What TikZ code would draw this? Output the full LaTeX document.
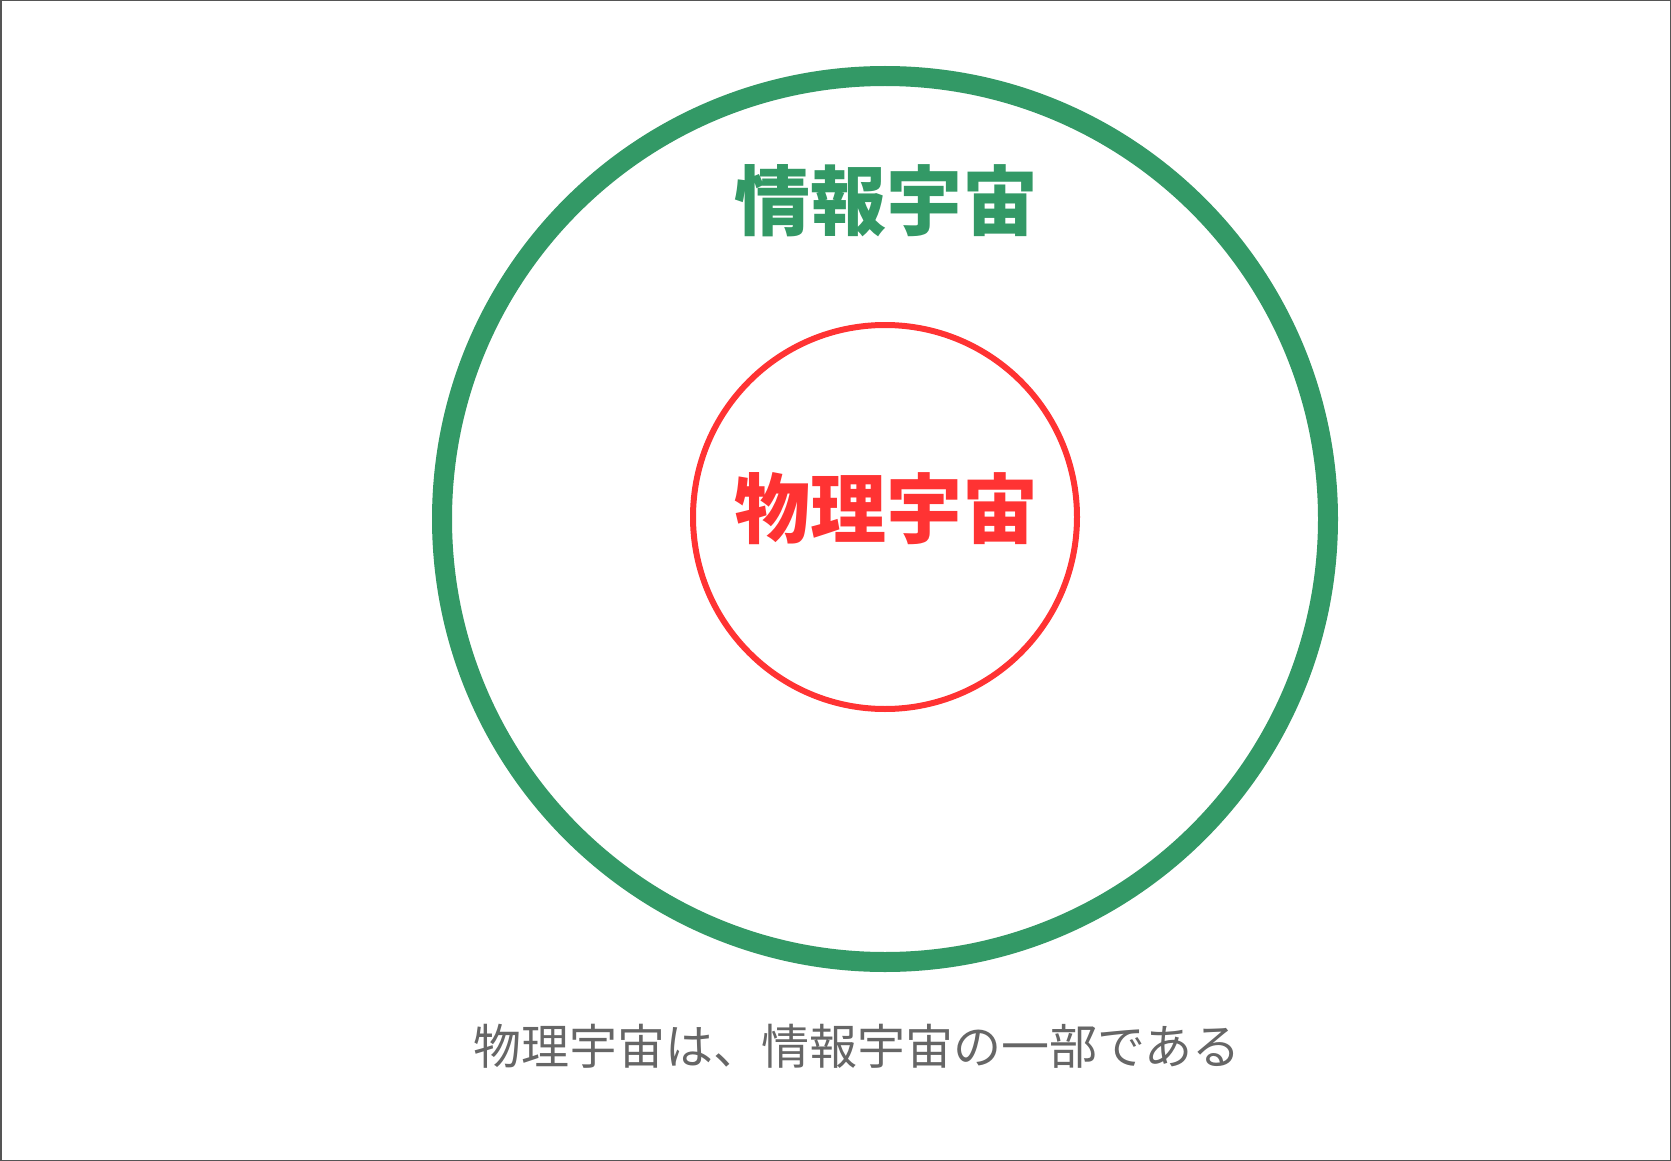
\documentclass[tikz,border=0pt]{standalone}
\usepackage{fontspec}
\newfontfamily\cjk{Noto Sans CJK JP}
\definecolor{infogreen}{HTML}{339966}
\definecolor{physred}{HTML}{FF3333}
\definecolor{captiongray}{HTML}{666666}
\definecolor{framegray}{HTML}{555555}
\begin{document}
\begin{tikzpicture}[x=1pt,y=-1pt,
  bigtitle/.style={font=\cjk\bfseries\fontsize{76}{80}\selectfont, inner sep=0pt},
  caption/.style={font=\cjk\fontsize{48}{52}\selectfont, text=captiongray, inner sep=0pt}]
  \useasboundingbox (0,0) rectangle (1671,1161);
  \fill[white] (0,0) rectangle (1671,1161);
  \draw[framegray, line width=1.5pt] (0.75,0.75) rectangle (1670.25,1160.25);
  \node[circle, draw=infogreen, line width=20pt, minimum size=886pt, inner sep=0pt] (info) at (885,519) {};
  \node[circle, draw=physred, line width=6pt, minimum size=384pt, inner sep=0pt] (phys) at (885,517) {};
  \node[bigtitle, text=infogreen] (infolabel) at (886,201) {情報宇宙};
  \node[bigtitle, text=physred] (physlabel) at (886,509) {物理宇宙};
  \node[caption] (cap) at (857,1046) {物理宇宙は、情報宇宙の一部である};
\end{tikzpicture}
\end{document}
